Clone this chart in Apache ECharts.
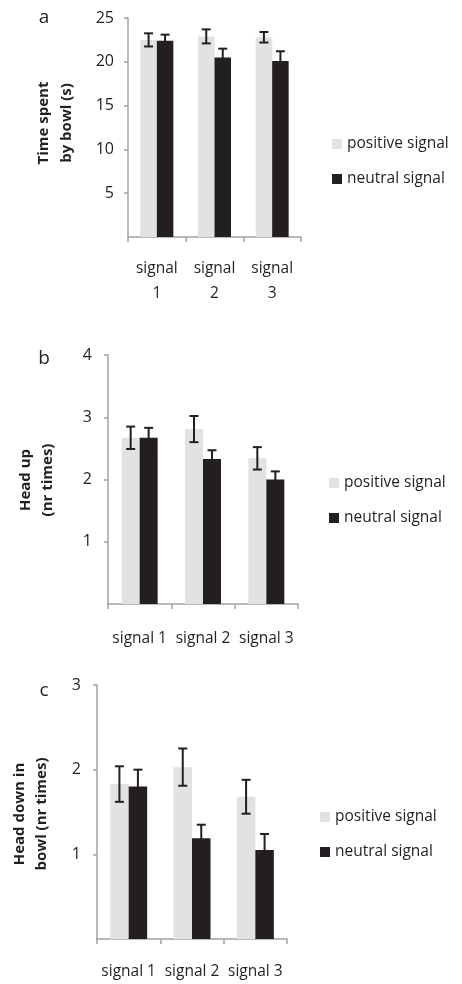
<!DOCTYPE html>
<html>
<head>
<meta charset="utf-8">
<script src="https://cdn.jsdelivr.net/npm/echarts@6/dist/echarts.min.js"></script>
<style>html,body{margin:0;padding:0;background:#fff;}#chart{width:462px;height:984px;}</style>
</head>
<body>
<div id="chart"></div>
<script>
// ---- data ----
var categories = ['signal 1', 'signal 2', 'signal 3'];
var seriesNames = ['positive signal', 'neutral signal'];

// panel a: time spent by bowl (s)
var aPositive = [22.5, 22.9, 22.8];
var aPositiveErr = [0.75, 0.8, 0.6];
var aNeutral = [22.4, 20.5, 20.1];
var aNeutralErr = [0.7, 1.0, 1.1];
var aTicks = [0, 5, 10, 15, 20, 25];

// panel b: head up (nr times)
var bPositive = [2.67, 2.81, 2.34];
var bPositiveErr = [0.18, 0.21, 0.18];
var bNeutral = [2.67, 2.33, 2.00];
var bNeutralErr = [0.16, 0.14, 0.13];
var bTicks = [0, 1, 2, 3, 4];

// panel c: head down in bowl (nr times)
var cPositive = [1.83, 2.03, 1.68];
var cPositiveErr = [0.21, 0.22, 0.20];
var cNeutral = [1.80, 1.19, 1.05];
var cNeutralErr = [0.20, 0.16, 0.19];
var cTicks = [0, 1, 2, 3];

// ---- style ----
var FONT = 'Open Sans';
var TXT = '#231f20';
var AX = '#a3a3a3';
var LIGHT = '#e1e2e4';
var DARK = '#231f20';

var panels = [
  {grid: {left: 128, top: 18, width: 173, height: 219}, ticks: aTicks, pos: aPositive, posErr: aPositiveErr, neu: aNeutral, neuErr: aNeutralErr, bw: 16.5, twoLine: true, labelMargin: 19, yMargin: 14,
   legend: {left: 332, top: 136}},
  {grid: {left: 108, top: 355, width: 190, height: 249}, ticks: bTicks, pos: bPositive, posErr: bPositiveErr, neu: bNeutral, neuErr: bNeutralErr, bw: 18, twoLine: false, labelMargin: 22, yMargin: 16,
   legend: {left: 329, top: 475}},
  {grid: {left: 97, top: 685, width: 190, height: 257}, ticks: cTicks, pos: cPositive, posErr: cPositiveErr, neu: cNeutral, neuErr: cNeutralErr, bw: 18.5, twoLine: false, labelMargin: 20, yMargin: 16,
   legend: {left: 320, top: 809}}
];

function errRender(offsetSign, bw) {
  return function (params, api) {
    var x = api.value(0), v = api.value(1), e = api.value(2);
    var top = api.coord([x, v + e]);
    var bot = api.coord([x, v - e]);
    var cx = top[0] + offsetSign * bw / 2;
    var hw = 4.5;
    var st = {stroke: DARK, lineWidth: 2};
    return {type: 'group', children: [
      {type: 'line', shape: {x1: cx, y1: top[1], x2: cx, y2: bot[1]}, style: st},
      {type: 'line', shape: {x1: cx - hw, y1: top[1], x2: cx + hw, y2: top[1]}, style: st},
      {type: 'line', shape: {x1: cx - hw, y1: bot[1], x2: cx + hw, y2: bot[1]}, style: st}
    ]};
  };
}

var option = {
  animation: false,
  backgroundColor: '#fff',
  textStyle: {fontFamily: FONT, color: TXT},
  grid: [], xAxis: [], yAxis: [], series: [], legend: [],
  graphic: [
    {type: 'text', x: 44, y: 18, style: {text: 'a', font: '19px "' + FONT + '"', fill: TXT, textAlign: 'center', textVerticalAlign: 'middle'}},
    {type: 'text', x: 44, y: 359, style: {text: 'b', font: '19px "' + FONT + '"', fill: TXT, textAlign: 'center', textVerticalAlign: 'middle'}},
    {type: 'text', x: 44, y: 691, style: {text: 'c', font: '19px "' + FONT + '"', fill: TXT, textAlign: 'center', textVerticalAlign: 'middle'}},
    {type: 'text', x: 55, y: 123, rotation: Math.PI / 2, style: {text: 'Time spent\nby bowl (s)', font: 'bold 15px "' + FONT + '"', lineHeight: 23, fill: TXT, textAlign: 'center', textVerticalAlign: 'middle'}},
    {type: 'text', x: 37, y: 480, rotation: Math.PI / 2, style: {text: 'Head up\n(nr times)', font: 'bold 15px "' + FONT + '"', lineHeight: 22, fill: TXT, textAlign: 'center', textVerticalAlign: 'middle'}},
    {type: 'text', x: 31, y: 814, rotation: Math.PI / 2, style: {text: 'Head down in\nbowl (nr times)', font: 'bold 15px "' + FONT + '"', lineHeight: 22, fill: TXT, textAlign: 'center', textVerticalAlign: 'middle'}}
  ]
};

panels.forEach(function (p, i) {
  option.grid.push(p.grid);
  option.xAxis.push({
    type: 'category', gridIndex: i, data: categories,
    axisLine: {lineStyle: {color: AX, width: 1.5}},
    axisTick: {show: true, length: 5, lineStyle: {color: AX, width: 1.5}},
    axisLabel: {color: TXT, fontFamily: FONT, fontSize: 15.5, margin: p.labelMargin, lineHeight: 25, interval: 0, hideOverlap: false,
      formatter: p.twoLine ? function (s) { return s.replace(' ', '\n'); } : '{value}'}
  });
  var tk = p.ticks;
  option.yAxis.push({
    type: 'value', gridIndex: i, min: tk[0], max: tk[tk.length - 1], interval: tk[1] - tk[0],
    splitLine: {show: false},
    axisLine: {show: true, lineStyle: {color: AX, width: 1.5}},
    axisTick: {show: true, length: 4, lineStyle: {color: AX, width: 1.5}},
    axisLabel: {color: TXT, fontFamily: FONT, fontSize: 16, margin: p.yMargin, showMinLabel: false}
  });
  option.series.push({
    name: seriesNames[0], type: 'bar', xAxisIndex: i, yAxisIndex: i, data: p.pos,
    barWidth: p.bw, barGap: '0%', itemStyle: {color: LIGHT}, z: 2
  });
  option.series.push({
    name: seriesNames[1], type: 'bar', xAxisIndex: i, yAxisIndex: i, data: p.neu,
    barWidth: p.bw, barGap: '0%', itemStyle: {color: DARK}, z: 2
  });
  option.series.push({
    type: 'custom', xAxisIndex: i, yAxisIndex: i, z: 5,
    renderItem: errRender(-1, p.bw), encode: {x: 0, y: 1},
    data: p.pos.map(function (v, k) { return [k, v, p.posErr[k]]; })
  });
  option.series.push({
    type: 'custom', xAxisIndex: i, yAxisIndex: i, z: 5,
    renderItem: errRender(1, p.bw), encode: {x: 0, y: 1},
    data: p.neu.map(function (v, k) { return [k, v, p.neuErr[k]]; })
  });
  option.legend.push({
    data: seriesNames, orient: 'vertical', left: p.legend.left, top: p.legend.top,
    itemWidth: 10, itemHeight: 10, itemGap: 19, icon: 'rect', selectedMode: false, padding: 0,
    textStyle: {fontFamily: FONT, fontSize: 15.5, color: TXT, lineHeight: 16, padding: [0, 0, 0, 0]}
  });
});

var chart = echarts.init(document.getElementById('chart'), null, {renderer: 'canvas'});
chart.setOption(option);
</script>
</body>
</html>
